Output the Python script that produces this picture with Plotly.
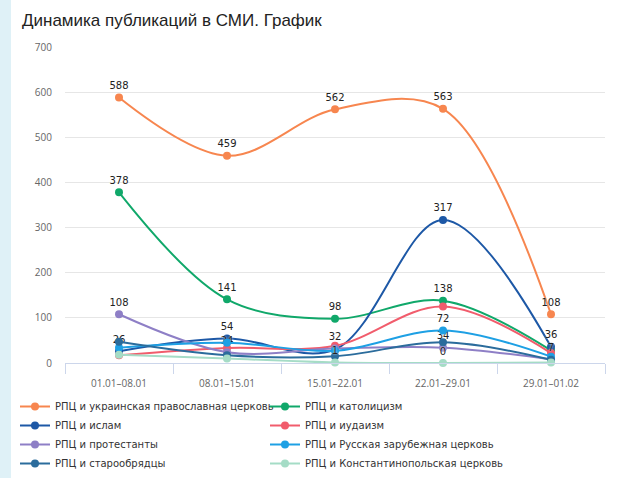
import plotly.graph_objects as go

categories = ["01.01–08.01", "08.01–15.01", "15.01–22.01", "22.01–29.01", "29.01–01.02"]

series_names = [
    "РПЦ и украинская православная церковь",
    "РПЦ и католицизм",
    "РПЦ и ислам",
    "РПЦ и иудаизм",
    "РПЦ и протестанты",
    "РПЦ и Русская зарубежная церковь",
    "РПЦ и старообрядцы",
    "РПЦ и Константинопольская церковь",
]
series_colors = ["#f7864f", "#10a86a", "#1d58a6", "#f15c6c", "#8e7fc6", "#1ea0e4", "#2b6c9c", "#a5dcc6"]

uoc = [588, 459, 562, 563, 108]
catholic = [378, 141, 98, 138, 28]
islam = [26, 54, 30, 317, 36]
judaism = [17, 33, 38, 125, 22]
protestants = [108, 24, 32, 34, 8]
abroad = [34, 45, 27, 72, 14]
oldbelievers = [47, 17, 15, 46, 7]
constantinople = [18, 10, 1, 0, 1]

series_values = [uoc, catholic, islam, judaism, protestants, abroad, oldbelievers, constantinople]

# which data labels are visible (others hidden by overlap in original)
label_mask = [
    [1, 1, 1, 1, 1],
    [1, 1, 1, 1, 0],
    [1, 1, 0, 1, 1],
    [0, 0, 0, 0, 0],
    [1, 1, 1, 1, 0],
    [0, 0, 0, 1, 0],
    [0, 0, 0, 0, 1],
    [0, 0, 1, 1, 0],
]

y_ticks = [0, 100, 200, 300, 400, 500, 600, 700]

fig = go.Figure()
for name, color, vals, mask in zip(series_names, series_colors, series_values, label_mask):
    fig.add_trace(go.Scatter(
        x=categories, y=vals, name=name, mode="lines+markers+text",
        line=dict(color=color, width=2, shape="spline", smoothing=1.0),
        marker=dict(color=color, size=8),
        text=[str(v) if m else "" for v, m in zip(vals, mask)],
        textposition="top center",
        textfont=dict(family="DejaVu Sans", size=10, color="#222222", shadow="0px 0px 2px #ffffff"),
        cliponaxis=False,
        hoverinfo="x+y+name",
    ))

fig.update_layout(
    width=617, height=478,
    margin=dict(l=65, r=12, t=47, b=115),
    paper_bgcolor="#ffffff", plot_bgcolor="#ffffff",
    title=dict(text="Динамика публикаций в СМИ. График", x=22/617, xanchor="left",
               y=1 - 20/478, yanchor="middle",
               font=dict(family="Liberation Sans", size=17, color="#222222")),
    xaxis=dict(type="category", tickson="boundaries", ticks="outside", ticklen=10,
               tickcolor="#ccd6eb", showline=True, linecolor="#ccd6eb", linewidth=1,
               showgrid=False, ticklabelstandoff=11, automargin=False,
               tickfont=dict(family="Open Sans", size=10, color="#666666"),
               range=[-0.5, 4.5]),
    yaxis=dict(range=[0, 700], tickvals=y_ticks, showgrid=True, gridcolor="#e6e6e6",
               zeroline=False, showline=False, ticks="", ticklabelstandoff=12, automargin=False,
               tickfont=dict(family="Open Sans", size=10, color="#666666")),
    legend=dict(orientation="h", xref="container", x=15/617, xanchor="left",
                yref="container", y=0, yanchor="bottom",
                entrywidth=205, entrywidthmode="pixels", itemwidth=30,
                bgcolor="rgba(0,0,0,0)",
                font=dict(family="DejaVu Sans", size=10, color="#333333"),
                tracegroupgap=0),
    showlegend=True,
)

fig.add_shape(type="rect", xref="paper", yref="paper", x0=-65/540, x1=-54/540, y0=-2, y1=2,
              fillcolor="#dff1f7", line=dict(width=0), layer="below")

fig.write_html("out.html", config={"displayModeBar": False},
               post_script="document.body.style.margin='0';")
